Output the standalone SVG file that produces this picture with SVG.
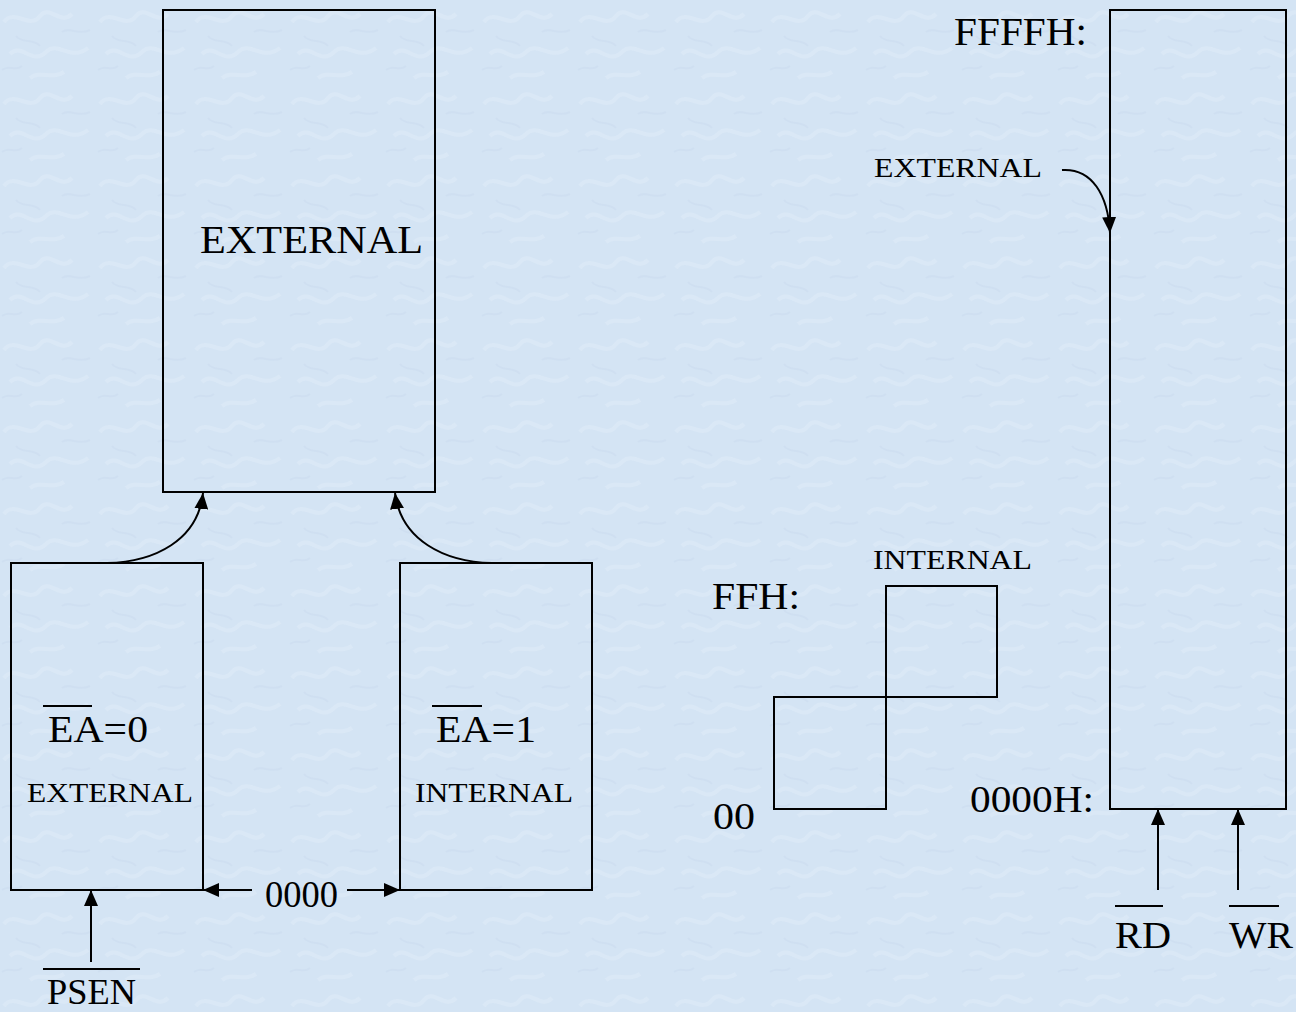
<svg xmlns="http://www.w3.org/2000/svg" width="1296" height="1012" viewBox="0 0 1296 1012">
<style>
.box{fill:none;stroke:#000;stroke-width:2}
.con{fill:none;stroke:#000;stroke-width:2}
.ovl{stroke:#000;stroke-width:2}
text{font-family:"Liberation Serif","Times New Roman",serif;fill:#000}
.big{font-size:39px}
.mid{font-size:37px}
.sm{font-size:27px}
</style>
<defs>
<marker id="ah" viewBox="0 0 16 14" refX="16" refY="7" markerWidth="16" markerHeight="14" markerUnits="userSpaceOnUse" orient="auto">
<path d="M0,0 L16,7 L0,14 z" fill="#000"/>
</marker>
<pattern id="tex" width="96" height="82" patternUnits="userSpaceOnUse">
<rect width="96" height="82" fill="#d4e4f4"/>
<path d="M4,22 C14,8 30,30 40,16 C50,4 60,26 72,14 M10,54 C22,42 32,66 46,52 C58,40 70,62 88,48 M30,78 C40,70 52,80 64,72" fill="none" stroke="#e3eef9" stroke-width="4" opacity="0.45"/>
<path d="M16,36 C22,44 34,38 40,46 M62,32 C70,26 78,36 90,30 M2,70 C8,64 16,72 22,66" fill="none" stroke="#c4d7eb" stroke-width="2" opacity="0.35"/>
</pattern>
</defs>
<rect width="1296" height="1012" fill="url(#tex)"/>

<g id="node-top-external">
<rect class="box" x="163" y="10" width="272" height="482"/>
<text class="big" x="200" y="253" textLength="223" lengthAdjust="spacingAndGlyphs">EXTERNAL</text>
</g>

<g id="node-ea0">
<rect class="box" x="11" y="563" width="192" height="327"/>
<line class="ovl" x1="43" y1="706" x2="92" y2="706"/>
<text class="mid" x="48" y="742" textLength="100" lengthAdjust="spacingAndGlyphs">EA=0</text>
<text class="sm" x="27" y="802" textLength="166" lengthAdjust="spacingAndGlyphs">EXTERNAL</text>
</g>

<g id="node-ea1">
<rect class="box" x="400" y="563" width="192" height="327"/>
<line class="ovl" x1="432" y1="706" x2="482" y2="706"/>
<text class="mid" x="436" y="742" textLength="100" lengthAdjust="spacingAndGlyphs">EA=1</text>
<text class="sm" x="415" y="802" textLength="158" lengthAdjust="spacingAndGlyphs">INTERNAL</text>
</g>

<g id="label-0000">
<text class="mid" x="265" y="907" textLength="73" lengthAdjust="spacingAndGlyphs">0000</text>
</g>

<g id="label-psen">
<line class="ovl" x1="43" y1="969" x2="140" y2="969"/>
<text x="47" y="1004" font-size="35" textLength="89" lengthAdjust="spacingAndGlyphs">PSEN</text>
</g>

<g id="node-internal-data">
<rect class="box" x="886" y="586" width="111" height="111"/>
<rect class="box" x="774" y="697" width="112" height="112"/>
<text class="sm" x="873" y="569" textLength="159" lengthAdjust="spacingAndGlyphs">INTERNAL</text>
<text class="mid" x="712" y="609" textLength="88" lengthAdjust="spacingAndGlyphs">FFH:</text>
<text class="mid" x="713" y="829" textLength="42" lengthAdjust="spacingAndGlyphs">00</text>
</g>

<g id="node-external-data">
<rect class="box" x="1110" y="10" width="176" height="799"/>
<text class="big" x="954" y="45" textLength="133" lengthAdjust="spacingAndGlyphs">FFFFH:</text>
<text class="sm" x="874" y="177" textLength="168" lengthAdjust="spacingAndGlyphs">EXTERNAL</text>
<text class="mid" x="970" y="812" textLength="124" lengthAdjust="spacingAndGlyphs">0000H:</text>
</g>

<g id="label-rd-wr">
<line class="ovl" x1="1115" y1="906" x2="1163" y2="906"/>
<text class="mid" x="1115" y="948" textLength="56" lengthAdjust="spacingAndGlyphs">RD</text>
<line class="ovl" x1="1229" y1="906" x2="1279" y2="906"/>
<text class="mid" x="1229" y="948" textLength="64" lengthAdjust="spacingAndGlyphs">WR</text>
</g>

<g id="connectors">
<path class="con" d="M107,563 C155,562 198,540 203,493" marker-end="url(#ah)"/>
<path class="con" d="M492,563 C444,562 401,540 395,493" marker-end="url(#ah)"/>
<line class="con" x1="252" y1="890" x2="203" y2="890" marker-end="url(#ah)"/>
<line class="con" x1="347" y1="890" x2="400" y2="890" marker-end="url(#ah)"/>
<line class="con" x1="91" y1="962" x2="91" y2="890" marker-end="url(#ah)"/>
<line class="con" x1="1158" y1="890" x2="1158" y2="809" marker-end="url(#ah)"/>
<line class="con" x1="1238" y1="890" x2="1238" y2="809" marker-end="url(#ah)"/>
<path class="con" d="M1062,170 C1092,168 1108,195 1110,233" marker-end="url(#ah)"/>
</g>
</svg>
